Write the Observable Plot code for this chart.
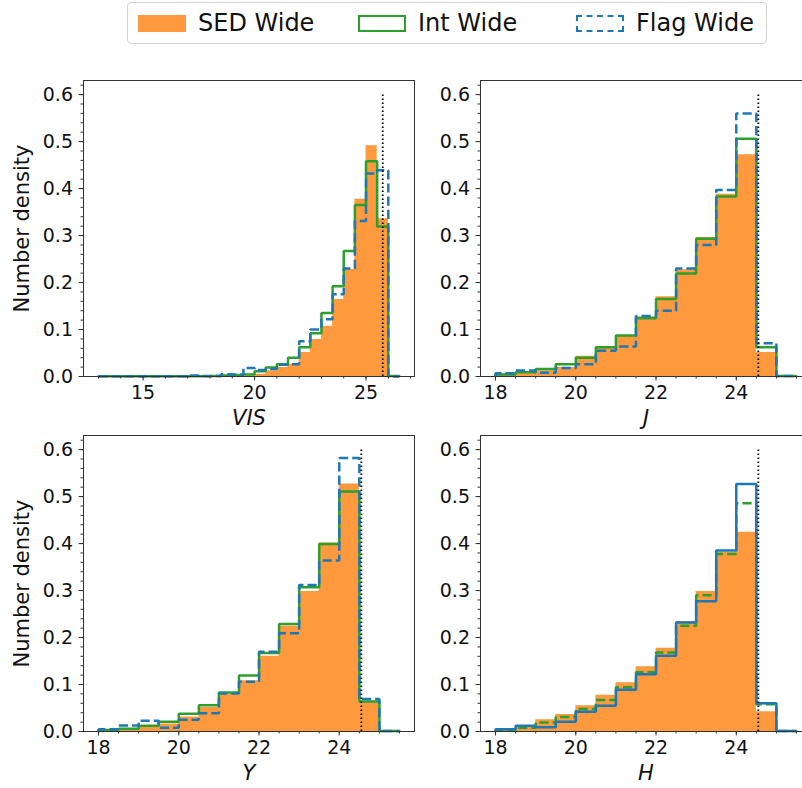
<!DOCTYPE html>
<html>
<head>
<meta charset="utf-8">
<script src="https://cdn.jsdelivr.net/npm/d3@7"></script>
<script src="https://cdn.jsdelivr.net/npm/@observablehq/plot@0.6"></script>
<style>
  html, body { margin: 0; padding: 0; background: #fff; }
  body { width: 802px; height: 788px; overflow: hidden; position: relative; font-family: "DejaVu Sans", sans-serif; }
  .panel { position: absolute; width: 424px; }
  .panel svg { max-width: none !important; }
  #legend { position: absolute; left: 127px; top: 2px; width: 640px; height: 42px; box-sizing: border-box;
            border: 1px solid #d3d3d3; border-radius: 4px; background: #fff; font-size: 24px; color: #111; }
  .sw { position: absolute; top: 12px; width: 48px; height: 17px; box-sizing: border-box; }
  .lt { position: absolute; top: 6px; line-height: 28px; white-space: nowrap; }
</style>
</head>
<body>
<div id="legend"></div>
<script>
// ---------- data ----------
const legendLabels = ["SED Wide", "Int Wide", "Flag Wide"];
const colors = { sed: "#ff993e", int: "#2ca02c", flag: "#1f77b4" };

// VIS: bins of 0.5 from 13 to 26.5
const visEdges = [13,13.5,14,14.5,15,15.5,16,16.5,17,17.5,18,18.5,19,19.5,20,20.5,21,21.5,22,22.5,23,23.5,24,24.5,25,25.5,26,26.5];
const visSED  = [0,0,0,0,0,0,0,0,0,0,0,0,0.0005,0.001,0.005,0.012,0.019,0.026,0.051,0.079,0.107,0.164,0.228,0.377,0.491,0.336,0];
const visInt  = [0.0005,0.0005,0.0005,0.0005,0.0005,0.0005,0.0005,0.0005,0.0005,0.0005,0.001,0.002,0.003,0.004,0.011,0.019,0.026,0.040,0.062,0.092,0.135,0.192,0.267,0.365,0.458,0.319,0.001];
const visFlag = [0.0005,0.0005,0.0005,0.0005,0.0005,0.0005,0.0005,0.0005,0.002,0.001,0.001,0.005,0.004,0.018,0.014,0.016,0.025,0.026,0.075,0.100,0.122,0.175,0.230,0.331,0.432,0.439,0];

// NIR bands: bins of 0.5 from 18 to 25.5
const nirEdges = [18,18.5,19,19.5,20,20.5,21,21.5,22,22.5,23,23.5,24,24.5,25,25.5];
const jSED  = [0.004,0.007,0.012,0.019,0.043,0.062,0.085,0.127,0.170,0.227,0.296,0.388,0.472,0.051,0];
const jInt  = [0.004,0.009,0.016,0.026,0.040,0.062,0.087,0.124,0.165,0.219,0.293,0.383,0.506,0.062,0.001];
const jFlag = [0.007,0.013,0.008,0.018,0.026,0.055,0.064,0.129,0.140,0.230,0.280,0.397,0.560,0.071,0.001];

const ySED  = [0.002,0.005,0.009,0.016,0.031,0.051,0.080,0.108,0.160,0.224,0.298,0.401,0.527,0.064,0];
const yInt  = [0.003,0.006,0.012,0.021,0.038,0.056,0.083,0.119,0.167,0.229,0.307,0.399,0.511,0.064,0.001];
const yFlag = [0.005,0.013,0.023,0.008,0.025,0.039,0.081,0.106,0.170,0.209,0.312,0.364,0.582,0.069,0.001];

const hSED  = [0.004,0.009,0.025,0.036,0.055,0.077,0.104,0.138,0.177,0.234,0.298,0.381,0.424,0.042,0];
const hInt  = [0.003,0.008,0.019,0.031,0.048,0.067,0.094,0.126,0.168,0.225,0.290,0.378,0.486,0.058,0.001];
const hFlag = [0.005,0.012,0.009,0.021,0.042,0.055,0.089,0.122,0.161,0.232,0.277,0.385,0.527,0.060,0.001];

const visTicks = [15, 20, 25];
const visMinor = [13,14,15,16,17,18,19,20,21,22,23,24,25,26,27];
const nirTicks = [18, 20, 22, 24];
const nirMinor = [18,18.5,19,19.5,20,20.5,21,21.5,22,22.5,23,23.5,24,24.5,25,25.5];
const yTicks = [0, 0.1, 0.2, 0.3, 0.4, 0.5, 0.6];
const yMinor = d3.range(0, 0.6201, 0.02);

const visCut = 25.75, nirCut = 24.55, cutTop = 0.6;

// ---------- helpers ----------
function outline(edges, vals) {
  const pts = [[edges[0], 0]];
  vals.forEach((v, i) => { pts.push([edges[i], v]); pts.push([edges[i + 1], v]); });
  pts.push([edges[edges.length - 1], 0]);
  return pts;
}

const FRAME_W = 331, FRAME_H = 296;
const ML = 83, MR = 10, MT = 10, MB = 62;

function panel({edges, sed, intv, flag, xDomain, xMajor, xMinor, cut, label, ylabel, intDash, flagDash}) {
  const marks = [
    Plot.areaY(outline(edges, sed), {x: d => d[0], y1: 0, y2: d => d[1], fill: colors.sed, curve: "linear"}),
    Plot.line(outline(edges, intv), {x: d => d[0], y: d => d[1], stroke: colors.int, strokeWidth: 2.5,
      strokeDasharray: intDash, strokeLinejoin: "miter", strokeLinecap: "butt"}),
    Plot.line(outline(edges, flag), {x: d => d[0], y: d => d[1], stroke: colors.flag, strokeWidth: 2.5,
      strokeDasharray: flagDash, strokeLinejoin: "miter", strokeLinecap: "butt"}),
    Plot.ruleX([cut], {y1: 0, y2: cutTop, stroke: "#000", strokeWidth: 1.8, strokeDasharray: "1.6,2.4"}),
    Plot.frame({stroke: "#333", strokeWidth: 1}),
    Plot.axisX({ticks: xMajor, tickSize: 4.5, tickPadding: 4, tickFormat: d3.format("d"), label: null, stroke: "#333", fill: "#111"}),
    Plot.axisX({ticks: xMinor, tickSize: 2.5, tickFormat: () => "", label: null, stroke: "#333"}),
    Plot.axisY({ticks: yTicks, tickSize: 4.5, tickPadding: 6, tickFormat: d3.format(".1f"), label: null, stroke: "#333", fill: "#111"}),
    Plot.axisY({ticks: yMinor, tickSize: 2.5, tickFormat: () => "", label: null, stroke: "#333"}),
    Plot.text([label], {frameAnchor: "bottom", dy: 42, fontStyle: "italic", fontSize: 21, fill: "#111", lineAnchor: "middle", textAnchor: "middle"})
  ];
  if (ylabel) marks.push(Plot.text([ylabel], {frameAnchor: "left", dx: -61, rotate: -90, fontSize: 21, fill: "#111", lineAnchor: "middle", textAnchor: "middle"}));
  return Plot.plot({
    width: ML + FRAME_W + MR, height: MT + FRAME_H + MB,
    marginLeft: ML, marginRight: MR, marginTop: MT, marginBottom: MB,
    x: {domain: xDomain},
    y: {domain: [0, 0.63]},
    style: {fontFamily: "DejaVu Sans", fontSize: "19px", background: "transparent", overflow: "visible", color: "#111", maxWidth: "none"},
    marks
  });
}

const solid = null, dashed = "9.2,4";
const panels = [
  {edges: visEdges, sed: visSED, intv: visInt, flag: visFlag, xDomain: [12.325, 27.175], xMajor: visTicks, xMinor: visMinor,
   cut: visCut, label: "VIS", ylabel: "Number density", intDash: solid, flagDash: dashed, left: 0, top: 70},
  {edges: nirEdges, sed: jSED, intv: jInt, flag: jFlag, xDomain: [17.625, 25.875], xMajor: nirTicks, xMinor: nirMinor,
   cut: nirCut, label: "J", ylabel: null, intDash: solid, flagDash: dashed, left: 397, top: 70},
  {edges: nirEdges, sed: ySED, intv: yInt, flag: yFlag, xDomain: [17.625, 25.875], xMajor: nirTicks, xMinor: nirMinor,
   cut: nirCut, label: "Y", ylabel: "Number density", intDash: solid, flagDash: dashed, left: 0, top: 425},
  {edges: nirEdges, sed: hSED, intv: hInt, flag: hFlag, xDomain: [17.625, 25.875], xMajor: nirTicks, xMinor: nirMinor,
   cut: nirCut, label: "H", ylabel: null, intDash: dashed, flagDash: solid, left: 397, top: 425}
];

panels.forEach(p => {
  const el = panel(p);
  const wrap = document.createElement("div");
  wrap.className = "panel";
  wrap.style.left = p.left + "px";
  wrap.style.top = p.top + "px";
  wrap.appendChild(el);
  document.body.appendChild(wrap);
});

// ---------- legend ----------
const legend = document.getElementById("legend");
const swatchStyles = [
  `left:10px; background:${colors.sed};`,
  `left:230px; border:2px solid ${colors.int};`,
  `left:448px; border:2px dashed ${colors.flag};`
];
const textLeft = [70, 290, 508];
legendLabels.forEach((t, i) => {
  const s = document.createElement("div");
  s.className = "sw"; s.style.cssText = swatchStyles[i];
  legend.appendChild(s);
  const l = document.createElement("div");
  l.className = "lt"; l.style.left = textLeft[i] + "px"; l.textContent = t;
  legend.appendChild(l);
});
</script>
</body>
</html>
